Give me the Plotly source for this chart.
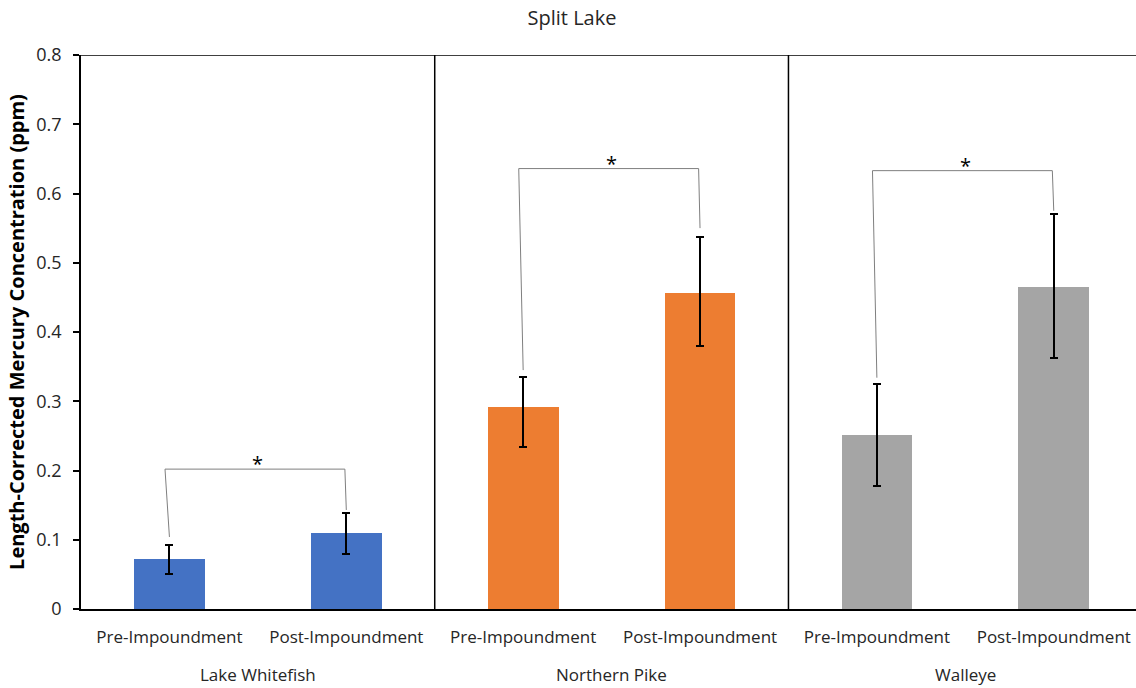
import plotly.graph_objects as go

species = ["Lake Whitefish", "Northern Pike", "Walleye"]
periods = ["Pre-Impoundment", "Post-Impoundment"]
colors = ["#4472C4", "#ED7D31", "#A5A5A5"]

means = [[0.072, 0.110], [0.292, 0.457], [0.251, 0.465]]
err_hi = [[0.092, 0.138], [0.335, 0.537], [0.325, 0.570]]
err_lo = [[0.051, 0.080], [0.234, 0.380], [0.178, 0.362]]

# significance brackets: horizontal level, left leg bottom, right leg bottom
bracket_top = [0.202, 0.636, 0.633]
bracket_left_bottom = [0.104, 0.345, 0.334]
bracket_right_bottom = [0.143, 0.550, 0.575]

FONT = "Open Sans"
TXT = "#262626"
W, H = 1136, 688

fig = go.Figure()

tickvals, ticktext = [], []
for g, sp in enumerate(species):
    xs = [2 * g, 2 * g + 1]
    tickvals += xs
    ticktext += periods
    fig.add_trace(go.Bar(
        x=xs, y=means[g], width=0.40,
        marker=dict(color=colors[g], line=dict(width=0)),
        error_y=dict(type="data", symmetric=False,
                     array=[h - m for h, m in zip(err_hi[g], means[g])],
                     arrayminus=[m - l for l, m in zip(err_lo[g], means[g])],
                     color="black", thickness=2, width=4),
        showlegend=False, hoverinfo="skip"))
    # bracket
    fig.add_trace(go.Scatter(
        x=[xs[0], xs[0] - 0.025, xs[1] - 0.008, xs[1]],
        y=[bracket_left_bottom[g], bracket_top[g], bracket_top[g], bracket_right_bottom[g]],
        mode="lines", line=dict(color="#7F7F7F", width=1),
        showlegend=False, hoverinfo="skip"))
    fig.add_annotation(x=(xs[0] + xs[1]) / 2, y=bracket_top[g], text="*",
                       showarrow=False, yanchor="bottom", yshift=-10,
                       font=dict(size=20, color="black", family=FONT))
    fig.add_annotation(x=(xs[0] + xs[1]) / 2, y=0, yref="y", text=sp,
                       showarrow=False, yanchor="middle", yshift=-65,
                       font=dict(size=17, color=TXT, family=FONT))

# group separators
for sep in [1.5, 3.5]:
    fig.add_shape(type="line", x0=sep, x1=sep, y0=0, y1=0.8, xref="x", yref="y",
                  line=dict(color="black", width=1.5))

fig.update_layout(
    width=W, height=H,
    margin=dict(l=81, r=0, t=55, b=79, autoexpand=False),
    plot_bgcolor="white", paper_bgcolor="white",
    title=dict(text="Split Lake", x=572 / W, xref="container", xanchor="center",
               y=1 - 18 / H, yref="container", yanchor="middle",
               font=dict(size=20, color=TXT, family=FONT)),
    bargap=0,
    xaxis=dict(range=[-0.5, 5.465], tickvals=tickvals, ticktext=ticktext,
               showline=True, linecolor="black", linewidth=1.5, mirror=False,
               ticks="", showgrid=False, zeroline=False, automargin=False,
               ticklabelstandoff=12,
               tickfont=dict(size=17, color=TXT, family=FONT)),
    yaxis=dict(range=[0, 0.8], tickvals=[0, 0.1, 0.2, 0.3, 0.4, 0.5, 0.6, 0.7, 0.8],
               ticktext=["0", "0.1", "0.2", "0.3", "0.4", "0.5", "0.6", "0.7", "0.8"],
               showline=True, linecolor="black", linewidth=1.5, mirror="allticks",
               ticks="outside", ticklen=6, tickcolor="black", tickwidth=1.5,
               showgrid=False, zeroline=False, automargin=False,
               ticklabelstandoff=8,
               tickfont=dict(size=18, color=TXT, family=FONT),
               title=dict(text="<b>Length-Corrected Mercury Concentration (ppm)</b>",
                          standoff=6,
                          font=dict(size=20, color="black", family=FONT))),
)

# top border line
fig.add_shape(type="line", x0=0, x1=1, y0=0.8, y1=0.8, xref="paper", yref="y",
              line=dict(color="black", width=1.5))

fig.write_html("out.html", config={"displayModeBar": False},
               post_script="document.body.style.margin='0';")
